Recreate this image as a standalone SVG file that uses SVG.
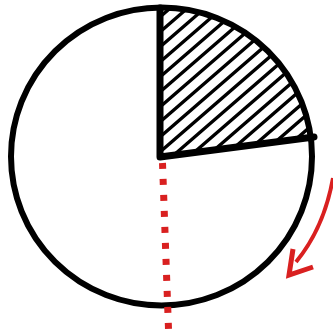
<svg xmlns="http://www.w3.org/2000/svg" width="333" height="331" viewBox="0 0 333 331">
<defs>
<style>
.ink{fill:none;stroke:#000;stroke-linecap:round;stroke-linejoin:round}
.red{fill:none;stroke:#d92020;stroke-linecap:butt;stroke-linejoin:miter}
</style>
<clipPath id="sec"><path d="M160,157 L160,7 A150.5,149 0 0 1 312,137 Z"/></clipPath>
</defs>
<rect width="333" height="331" fill="#fff"/>
<g id="hatch" clip-path="url(#sec)" stroke="#000" stroke-width="3.3">
<path d="M160,17 l300,-260 M160,32 l300,-260 M160,47 l300,-260 M160,62 l300,-260 M160,77 l300,-260 M160,92 l300,-260 M160,107 l300,-260 M160,122 l300,-260 M160,137 l300,-260 M160,152 l300,-260 M160,167 l300,-260 M160,182 l300,-260 M160,197 l300,-260 M160,212 l300,-260 M160,227 l300,-260 M160,242 l300,-260 M160,257 l300,-260 M160,272 l300,-260 M160,287 l300,-260"/>
</g>
<g id="circle"><ellipse class="ink" cx="161.5" cy="156.5" rx="150.5" ry="149" stroke-width="6"/></g>
<g id="sector"><path class="ink" d="M160,8 L160,157 L314,137" stroke-width="7"/></g>
<g id="connectors">
<line class="red" x1="162.5" y1="163" x2="168.5" y2="329" stroke-width="7" stroke-dasharray="6 10"/>
<path class="red" d="M333,178 Q324,228 296,262" stroke-width="4"/>
<polyline class="red" points="293,249 289,275 313,267" stroke-width="5"/>
</g>
</svg>
